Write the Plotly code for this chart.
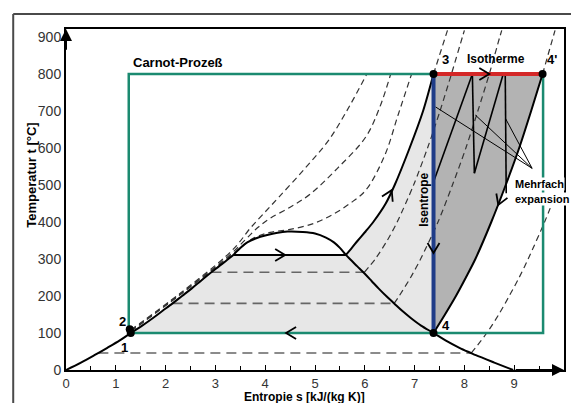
import plotly.graph_objects as go
import numpy as np

# ---------------- data ----------------
# saturation line (liquid side, then vapour side)
liq_t = [0, 20, 40, 60, 80, 100, 120, 140, 160, 180, 200, 220, 240, 260, 280, 300, 311, 330, 345, 356, 364, 370, 374]
liq_s = [0, 0.30, 0.57, 0.83, 1.08, 1.30, 1.53, 1.74, 1.94, 2.14, 2.33, 2.52, 2.70, 2.88, 3.07, 3.26, 3.36, 3.50, 3.64, 3.82, 4.02, 4.22, 4.45]
vap_t = [374, 373, 369, 358, 345, 330, 311, 300, 280, 260, 240, 220, 200, 180, 160, 140, 120, 100, 80, 60, 46, 40, 20, 0]
vap_s = [4.45, 4.75, 5.00, 5.22, 5.38, 5.50, 5.62, 5.70, 5.85, 6.00, 6.14, 6.28, 6.43, 6.59, 6.75, 6.93, 7.13, 7.38, 7.62, 7.90, 8.13, 8.23, 8.60, 8.98]

# 100 bar heating path (superheated part)
p100_t = [311, 330, 350, 375, 400, 450, 500, 600, 700, 800]
p100_s = [5.62, 5.74, 5.86, 6.02, 6.17, 6.42, 6.60, 6.90, 7.17, 7.38]
p100_top_t = [800, 900, 918]
p100_top_s = [7.38, 7.62, 7.66]

# 1 bar isobar (right border of expansion area)
p1_t = [100, 150, 200, 250, 300, 400, 500, 600, 700, 800]
p1_s = [7.38, 7.61, 7.83, 8.03, 8.22, 8.54, 8.83, 9.10, 9.34, 9.57]
p1_top_t = [800, 900, 918]
p1_top_s = [9.57, 9.78, 9.82]

# 50 bar isobar
p50_t = [264, 264, 300, 350, 400, 500, 600, 700, 800, 900, 918]
p50_s = [2.92, 5.99, 6.21, 6.45, 6.65, 6.98, 7.26, 7.51, 7.74, 7.96, 8.00]
# 10 bar isobar
p10_t = [180, 180, 200, 250, 300, 400, 500, 600, 700, 800, 900, 918]
p10_s = [2.14, 6.59, 6.69, 6.92, 7.12, 7.47, 7.76, 8.03, 8.27, 8.50, 8.71, 8.75]
# 0.1 bar isobar
p01_t = [46, 46, 100, 150, 200, 250, 300, 400, 450]
p01_s = [0.65, 8.14, 8.45, 8.69, 8.90, 9.10, 9.28, 9.61, 9.76]
# supercritical isobars
pA_t = [108, 208, 306, 340, 380, 420, 468, 545, 622, 715, 800]
pA_s = [1.30, 2.30, 3.20, 3.45, 3.68, 3.95, 4.28, 4.80, 5.28, 5.70, 6.04]
pB_t = [106, 206, 312, 352, 385, 410, 440, 475, 545, 630, 710, 800]
pB_s = [1.30, 2.30, 3.30, 3.60, 3.85, 4.10, 4.50, 4.90, 5.45, 6.02, 6.30, 6.52]
pC_t = [104, 204, 308, 355, 372, 380, 395, 419, 450, 486, 580, 690, 800]
pC_s = [1.30, 2.30, 3.30, 3.75, 4.10, 4.50, 4.95, 5.34, 5.70, 6.02, 6.40, 6.67, 6.94]

# process points
S1, T1 = 1.30, 100
S2, T2 = 1.28, 110
S3, T3 = 7.38, 800
S4, T4 = 7.38, 100
S4p, T4p = 9.57, 800
T_evap = 311
S_evap_l, S_evap_v = 3.36, 5.62
carnot_s = [1.26, 9.58]
carnot_t = [100, 800]

# multiple expansion zig-zag
zig_s = [7.38, 8.16, 8.20, 8.78, 8.82, 8.84]
zig_t = [508, 800, 532, 800, 800, 478]
# pointer lines of the "Mehrfachexpansion" label
ptr_from = (9.36, 545)
ptr_to_s = [7.42, 8.22, 8.82]
ptr_to_t = [711, 689, 681]

x_ticks = list(range(0, 11))
y_ticks = list(range(0, 1000, 100))

# ---------------- layout constants ----------------
W, H = 571, 403
ML, MR, MT, MB = 66, 5, 29, 33
XR = [0, 10]
YR = [0, 921.6]
KX = (W - ML - MR) / (XR[1] - XR[0])
KY = (H - MT - MB) / (YR[1] - YR[0])

TEAL = "#1b8a70"
RED = "#d42828"
BLUE = "#1f3c88"
FONT = "Liberation Sans, Arial, sans-serif"

fig = go.Figure()


def line(xs, ys, color="black", width=2, dash=None, shape="linear", fill=None, fillcolor=None, mode="lines", smoothing=0.8):
    fig.add_trace(go.Scatter(x=xs, y=ys, mode=mode, fill=fill, fillcolor=fillcolor,
                             line=dict(color=color, width=width, dash=dash, shape=shape, smoothing=smoothing),
                             hoverinfo="skip", showlegend=False))


def chevron(s, t, ds, dt, color="black", size=10, half=6, width=1.8):
    # direction in pixel space
    dx, dy = ds * KX, dt * KY
    n = np.hypot(dx, dy)
    ux, uy = dx / n, dy / n
    px, py = -uy, ux
    b1 = (s + (-size * ux + half * px) / KX, t + (-size * uy + half * py) / KY)
    b2 = (s + (-size * ux - half * px) / KX, t + (-size * uy - half * py) / KY)
    line([b1[0], s, b2[0]], [b1[1], t, b2[1]], color=color, width=width)


# light gray area
li = [i for i, tt in enumerate(liq_t) if 100 <= tt <= 311]
light_s = [liq_s[i] for i in li] + p100_s + [S4]
light_t = [liq_t[i] for i in li] + p100_t + [T4]
line(light_s, light_t, color="rgba(0,0,0,0)", width=0, fill="toself", fillcolor="#e7e7e7")
# dark gray area
dark_s = [S3, S4p] + p1_s[::-1] + [S4]
dark_t = [T3, T4p] + p1_t[::-1] + [T4]
line(dark_s, dark_t, color="rgba(0,0,0,0)", width=0, fill="toself", fillcolor="#b3b3b3")

# dashed isobars
DASH = "6px,4px"
for ss, tt in [(pA_s, pA_t), (pB_s, pB_t), (pC_s, pC_t)]:
    line(ss, tt, color="#333", width=1.2, dash=DASH, shape="spline", smoothing=1.0)
for ss, tt in [(p50_s, p50_t), (p10_s, p10_t), (p01_s, p01_t)]:
    line(ss[:2], tt[:2], color="#666", width=1.6, dash="10px,6px")
    line(ss[1:], tt[1:], color="#333", width=1.2, dash=DASH, shape="spline")
line(p100_top_s, p100_top_t, color="#333", width=1.2, dash=DASH)
line(p1_top_s, p1_top_t, color="#333", width=1.2, dash=DASH)

# saturation dome
line(liq_s + vap_s[1:], liq_t + vap_t[1:], color="black", width=2, shape="spline", smoothing=0.9)

# Carnot rectangle
line([carnot_s[0], carnot_s[0], carnot_s[1], carnot_s[1], carnot_s[0]],
     [carnot_t[0], carnot_t[1], carnot_t[1], carnot_t[0], carnot_t[0]], color=TEAL, width=2.5)

# heating path at 100 bar
line([S_evap_l, S_evap_v], [T_evap, T_evap], color="black", width=2)
line(p100_s, p100_t, color="black", width=2, shape="spline")
# 1 bar border
line(p1_s, p1_t, color="black", width=2, shape="spline")
# zig-zag
line(zig_s[:2], zig_t[:2], color="black", width=1.6)
line(zig_s[1:3], zig_t[1:3], color="black", width=1.6)
line(zig_s[2:4], zig_t[2:4], color="black", width=1.6)
line(zig_s[4:6], zig_t[4:6], color="black", width=1.6)
for ps, pt in zip(ptr_to_s, ptr_to_t):
    line([ptr_from[0], ps], [ptr_from[1], pt], color="black", width=1)

# isotherm (red) and isentrope (blue)
line([S3, S4p + 0.06], [T3, T4p], color=RED, width=4)
line([S3, S4], [T3, T4], color=BLUE, width=4)

# arrows
chevron(4.40, T_evap, 1, 0)
chevron(6.54, 486, 0.18, 50)
chevron(8.50, 800, 1, 0, color="black")
chevron(S3, 316, 0, -1)
chevron(4.42, 100, -1, 0)
chevron(8.68, 446, -0.29, -100)

# points
line([S1, S2, S3, S4, S4p], [T1, T2, T3, T4, T4p], mode="markers")
fig.data[-1].marker = dict(color="black", size=8)

# ---------------- annotations ----------------
ann = []


def text(s, t, txt, size=13, xanchor="center", angle=0, bg=None, bold=True):
    ann.append(dict(x=s, y=t, text=f"<b>{txt}</b>" if bold else txt, showarrow=False, xanchor=xanchor,
                    yanchor="middle", textangle=angle, bgcolor=bg, borderpad=0,
                    font=dict(family=FONT, size=size, color="black")))


text(1.32, 830, "Carnot-Prozeß", size=13, xanchor="left")
text(8.64, 841, "Isotherme", size=12)
text(7.62, 838, "3", size=13)
text(9.76, 838, "4'", size=13)
text(7.64, 119, "4", size=13)
text(1.14, 130, "2", size=13)
text(1.18, 62, "1", size=13)
text(7.20, 459, "Isentrope", size=12, angle=-90)
text(9.00, 503, "Mehrfach", size=11, xanchor="left", bg="white")
text(9.00, 462, "expansion", size=11, xanchor="left", bg="white")

# axis arrows
ann.append(dict(x=0, y=YR[1], ax=0, ay=YR[1] - 60, xref="x", yref="y", axref="x", ayref="y",
                showarrow=True, arrowhead=2, arrowsize=1.2, arrowwidth=2, arrowcolor="black", text=""))
ann.append(dict(x=XR[1], y=0, ax=XR[1] - 1, ay=0, xref="x", yref="y", axref="x", ayref="y",
                showarrow=True, arrowhead=2, arrowsize=1.2, arrowwidth=2, arrowcolor="black", text=""))

# axis titles
ann.append(dict(xref="paper", yref="paper", x=(22 - ML) / (W - ML - MR), y=(H - MB - 175) / (H - MT - MB),
                text="<b>Temperatur t [°C]</b>", textangle=-90, showarrow=False,
                font=dict(family=FONT, size=13, color="black")))
ann.append(dict(xref="paper", yref="paper", x=(305 - ML) / (W - ML - MR), y=-(397 - (H - MB)) / (H - MT - MB),
                text="<b>Entropie s [kJ/(kg K)]</b>", showarrow=False, yanchor="middle",
                font=dict(family=FONT, size=12, color="black")))

# outer frame (scan border)
px0 = (13 - ML) / (W - ML - MR)
py0 = (H - MB - 14) / (H - MT - MB)
shapes = [
    dict(type="line", xref="paper", yref="paper", x0=px0, x1=1.2, y0=py0, y1=py0, line=dict(color="#4a4a4a", width=2)),
    dict(type="line", xref="paper", yref="paper", x0=px0, x1=px0, y0=py0, y1=-0.2, line=dict(color="#4a4a4a", width=2)),
]

fig.update_layout(
    width=W, height=H, margin=dict(l=ML, r=MR, t=MT, b=MB),
    paper_bgcolor="white", plot_bgcolor="white",
    annotations=ann, shapes=shapes,
    xaxis=dict(range=XR, tickvals=x_ticks, ticktext=[str(v) for v in x_ticks], showgrid=False, zeroline=False,
               showline=True, linecolor="black", linewidth=2, mirror=True,
               ticks="inside", ticklen=5, tickcolor="black",
               minor=dict(dtick=0.5, ticks="inside", ticklen=4, tickcolor="black"),
               tickfont=dict(family=FONT, size=13, color="#333")),
    yaxis=dict(range=YR, tickvals=y_ticks, showgrid=False, zeroline=False,
               showline=True, linecolor="black", linewidth=2, mirror=True, ticks="",
               tickfont=dict(family=FONT, size=14, color="#333")),
)

fig.write_html("out.html")
